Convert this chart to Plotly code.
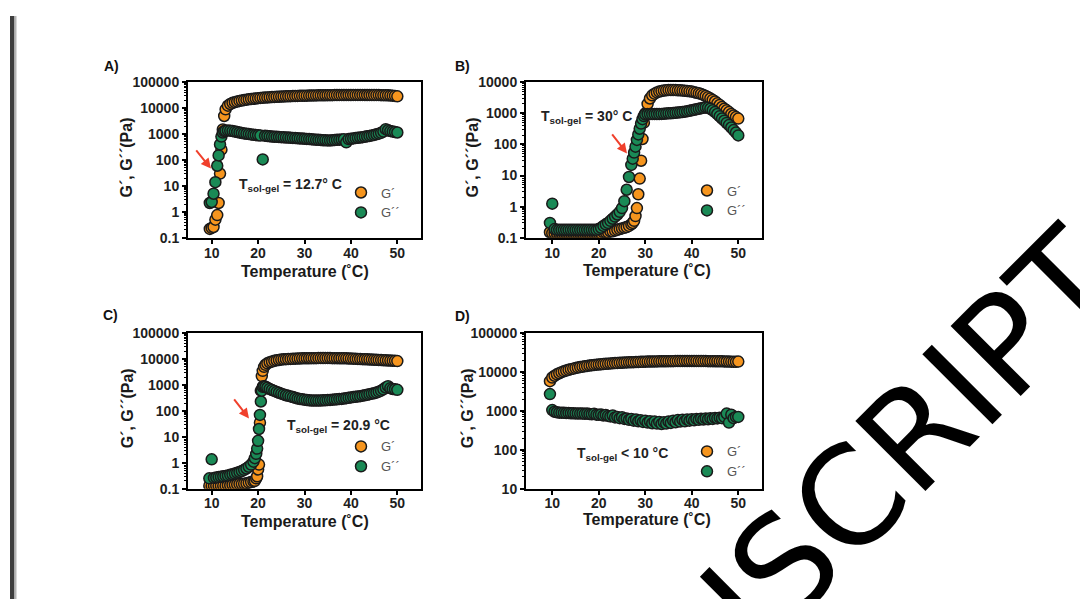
import plotly.graph_objects as go

# Measured page placement: screen_x = 8 + fig_x ; screen_y = 16 + 0.97 * fig_y
W, H = 1080, 601
OFFX, OFFY, SY = 8, 16, 0.97
FONT = "Liberation Sans, Arial, sans-serif"
ORANGE = "#F6951E"
GREEN = "#1A8A56"

# ---------------- data ----------------
TEMP_A = [9.6, 10.0, 10.4, 10.8, 11.2, 11.5, 11.8, 12.1, 12.4, 12.7,
          13.0, 13.5, 14.0, 14.5, 15.0, 15.5, 16.0, 16.5, 17.0, 17.5,
          18.0, 18.5, 19.0, 19.5, 20.0, 20.5, 21.0, 21.5, 22.0, 22.5,
          23.0, 23.5, 24.0, 24.5, 25.0, 25.5, 26.0, 26.5, 27.0, 27.5,
          28.0, 28.5, 29.0, 29.5, 30.0, 30.5, 31.0, 31.5, 32.0, 32.5,
          33.0, 33.5, 34.0, 34.5, 35.0, 35.5, 36.0, 36.5, 37.0, 37.5,
          38.0, 38.5, 39.0, 39.5, 40.0, 40.5, 41.0, 41.5, 42.0, 42.5,
          43.0, 43.5, 44.0, 44.5, 45.0, 45.5, 46.0, 46.5, 47.0, 47.5,
          48.0, 48.5, 49.0, 49.5, 50.0]
GP_A = [0.22, 0.24, 0.26, 0.5, 0.75, 2.2, 30, 250, 1500, 5000,
        9000, 12500, 14500, 16000, 17000, 18000, 19000, 19800, 20500, 21200,
        22000, 22600, 23200, 23800, 24300, 24800, 25200, 25600, 26000, 26400,
        26700, 27000, 27300, 27600, 27900, 28200, 28500, 28700, 29000, 29200,
        29400, 29600, 29800, 30000, 30200, 30400, 30600, 30800, 31000, 31100,
        31200, 31300, 31400, 31500, 31600, 31700, 31800, 31900, 32000, 32000,
        32100, 32100, 32200, 32200, 32200, 32300, 32300, 32300, 32300, 32300,
        32200, 32200, 32200, 32100, 32100, 32000, 32000, 31800, 31600, 31400,
        31200, 30800, 30300, 29600, 28500]
GPP_A = [2.2, 2.4, 5, 14, 60, 150, 400, 800, 1150, 1300,
         1350, 1380, 1350, 1300, 1250, 1200, 1150, 1100, 1060, 1030,
         1000, 970, 940, 920, 900, 880, 105, 860, 840, 820,
         800, 790, 780, 770, 760, 750, 740, 730, 720, 710,
         700, 690, 680, 670, 660, 650, 640, 630, 620, 610,
         600, 590, 580, 580, 570, 570, 580, 590, 600, 610,
         620, 630, 480, 640, 660, 680, 700, 720, 740, 760,
         790, 820, 850, 890, 930, 980, 1040, 1120, 1250, 1550,
         1400, 1300, 1250, 1200, 1150]

TEMP_B = [9.5, 10.0, 10.5, 11.0, 11.5, 12.0, 12.5, 13.0, 13.5, 14.0,
          14.5, 15.0, 15.5, 16.0, 16.5, 17.0, 17.5, 18.0, 18.5, 19.0,
          19.5, 20.0, 20.5, 21.0, 21.5, 22.0, 22.5, 23.0, 23.5, 24.0,
          24.5, 25.0, 25.5, 26.0, 26.5, 27.0,
          27.3, 27.6, 27.9, 28.2, 28.5, 28.8, 29.1, 29.4, 29.7,
          30.0, 30.5, 31.0, 31.5, 32.0, 32.5, 33.0, 33.5, 34.0, 34.5,
          35.0, 35.5, 36.0, 36.5, 37.0, 37.5, 38.0, 38.5, 39.0, 39.5,
          40.0, 40.5, 41.0, 41.5, 42.0, 42.5, 43.0, 43.5, 44.0, 44.5,
          45.0, 45.5, 46.0, 46.5, 47.0, 47.5, 48.0, 48.5, 49.0, 49.5,
          50.0]
GP_B = [0.15, 0.14, 0.14, 0.14, 0.14, 0.14, 0.14, 0.14, 0.14, 0.14,
        0.14, 0.14, 0.14, 0.14, 0.14, 0.14, 0.14, 0.14, 0.14, 0.14,
        0.14, 0.14, 0.14, 0.15, 0.15, 0.15, 0.16, 0.16, 0.17, 0.18,
        0.19, 0.2, 0.21, 0.22, 0.24, 0.27,
        0.3, 0.35, 0.5, 0.9, 2.5, 8, 30, 150, 500,
        1000, 2000, 3000, 3800, 4300, 4700, 5000, 5200, 5400, 5500,
        5600, 5600, 5600, 5600, 5500, 5500, 5400, 5300, 5200, 5100,
        5000, 4800, 4600, 4400, 4200, 3900, 3600, 3300, 3000, 2700,
        2400, 2100, 1850, 1600, 1400, 1250, 1100, 950, 850, 760,
        680]
GPP_B = [0.3, 1.25, 0.19, 0.18, 0.18, 0.18, 0.18, 0.18, 0.18, 0.18,
         0.18, 0.18, 0.18, 0.18, 0.18, 0.18, 0.18, 0.18, 0.18, 0.18,
         0.18, 0.19, 0.21, 0.24, 0.27, 0.3, 0.35, 0.41, 0.48, 0.56,
         0.68, 0.9, 1.5, 3.5, 9, 22,
         35, 55, 85, 140, 210, 320, 470, 650, 820,
         920, 950, 950, 950, 950, 950, 950, 960, 970, 980,
         1000, 1000, 1020, 1040, 1060, 1080, 1100, 1130, 1160, 1200,
         1250, 1300, 1350, 1400, 1450, 1500, 1550, 1500, 1400, 1250,
         1100, 950, 800, 680, 580, 490, 420, 350, 290, 240,
         195]

TEMP_C = [9.5, 10.0, 10.5, 11.0, 11.5, 12.0, 12.5, 13.0, 13.5, 14.0,
          14.5, 15.0, 15.5, 16.0, 16.5, 17.0, 17.5, 18.0, 18.5, 19.0,
          19.3, 19.6, 19.8, 20.0, 20.2, 20.4, 20.6, 20.8, 21.0, 21.3, 21.6, 22.0,
          22.5, 23.0, 23.5, 24.0, 24.5, 25.0, 25.5, 26.0, 26.5, 27.0,
          27.5, 28.0, 28.5, 29.0, 29.5, 30.0, 30.5, 31.0, 31.5, 32.0,
          32.5, 33.0, 33.5, 34.0, 34.5, 35.0, 35.5, 36.0, 36.5, 37.0,
          37.5, 38.0, 38.5, 39.0, 39.5, 40.0, 40.5, 41.0, 41.5, 42.0,
          42.5, 43.0, 43.5, 44.0, 44.5, 45.0, 45.5, 46.0, 46.5, 47.0,
          47.5, 48.0, 48.5, 49.0, 49.5, 50.0]
GP_C = [0.13, 0.13, 0.13, 0.13, 0.13, 0.13, 0.13, 0.13, 0.135, 0.135,
        0.14, 0.14, 0.145, 0.15, 0.15, 0.155, 0.16, 0.17, 0.18, 0.19,
        0.2, 0.25, 0.3, 0.55, 0.85, 35, 600, 2200, 3500, 5000, 6000, 6800,
        7500, 8000, 8500, 8900, 9200, 9500, 9700, 9900, 10000, 10100,
        10200, 10300, 10400, 10500, 10600, 10600, 10700, 10700, 10800, 10800,
        10800, 10900, 10900, 10900, 10900, 10900, 10900, 10800, 10800, 10800,
        10700, 10700, 10600, 10600, 10500, 10400, 10300, 10200, 10100, 10000,
        9900, 9800, 9700, 9600, 9500, 9400, 9300, 9200, 9100, 9000,
        8900, 8800, 8700, 8600, 8500, 8300]
GPP_C = [0.25, 1.35, 0.26, 0.27, 0.28, 0.29, 0.3, 0.31, 0.32, 0.34,
         0.36, 0.38, 0.41, 0.44, 0.48, 0.53, 0.6, 0.7, 0.85, 1.1,
         1.5, 2.2, 3.5, 7, 20, 70, 230, 600, 850, 900, 850, 780,
         700, 640, 590, 540, 500, 460, 430, 400, 380, 360,
         340, 320, 300, 290, 280, 270, 260, 255, 250, 250,
         250, 250, 250, 255, 255, 260, 265, 270, 275, 280,
         285, 290, 300, 310, 320, 330, 340, 350, 360, 370,
         385, 400, 420, 440, 460, 480, 510, 550, 600, 680,
         800, 900, 750, 700, 680, 650]

TEMP_D = [9.5, 10.0, 10.5, 11.0, 11.5, 12.0, 12.5, 13.0, 13.5, 14.0,
          14.5, 15.0, 15.5, 16.0, 16.5, 17.0, 17.5, 18.0, 18.5, 19.0,
          19.5, 20.0, 20.5, 21.0, 21.5, 22.0, 22.5, 23.0, 23.5, 24.0,
          24.5, 25.0, 25.5, 26.0, 26.5, 27.0, 27.5, 28.0, 28.5, 29.0,
          29.5, 30.0, 30.5, 31.0, 31.5, 32.0, 32.5, 33.0, 33.5, 34.0,
          34.5, 35.0, 35.5, 36.0, 36.5, 37.0, 37.5, 38.0, 38.5, 39.0,
          39.5, 40.0, 40.5, 41.0, 41.5, 42.0, 42.5, 43.0, 43.5, 44.0,
          44.5, 45.0, 45.5, 46.0, 46.5, 47.0, 47.5, 48.0, 48.5, 49.0,
          49.5, 50.0]
GP_D = [5800, 7200, 8000, 8700, 9300, 9900, 10400, 10900, 11400, 11800,
        12200, 12600, 13000, 13400, 13700, 14000, 14300, 14600, 14900, 15200,
        15400, 15600, 15800, 16000, 16200, 16400, 16600, 16700, 16900, 17000,
        17200, 17300, 17500, 17600, 17700, 17800, 17900, 18000, 18100, 18200,
        18300, 18400, 18500, 18500, 18600, 18700, 18700, 18800, 18800, 18900,
        18900, 19000, 19000, 19000, 19100, 19100, 19100, 19100, 19200, 19200,
        19200, 19200, 19200, 19200, 19100, 19100, 19100, 19100, 19000, 19000,
        19000, 18900, 18900, 18800, 18800, 18700, 18600, 18500, 18400, 18300,
        18200, 18500]
GPP_D = [2700, 1050, 950, 920, 900, 900, 890, 880, 880, 870,
         870, 860, 860, 850, 860, 840, 850, 830, 820, 840,
         800, 790, 810, 760, 780, 740, 720, 760, 680, 700,
         650, 690, 620, 640, 590, 620, 560, 600, 540, 570,
         520, 560, 500, 540, 480, 530, 470, 520, 460, 510,
         470, 530, 490, 560, 510, 580, 530, 590, 540, 600,
         560, 610, 570, 620, 590, 630, 600, 640, 610, 650,
         620, 660, 640, 670, 650, 700, 850, 500, 800, 650,
         700, 700]

X_TICKS = [10, 20, 30, 40, 50]
Y_TICKS_AC = [0.1, 1, 10, 100, 1000, 10000, 100000]
Y_LABELS_AC = ["0.1", "1", "10", "100", "1000", "10000", "100000"]
Y_TICKS_B = [0.1, 1, 10, 100, 1000, 10000]
Y_LABELS_B = ["0.1", "1", "10", "100", "1000", "10000"]
Y_TICKS_D = [10, 100, 1000, 10000, 100000]
Y_LABELS_D = ["10", "100", "1000", "10000", "100000"]

PANELS = ["A)", "B)", "C)", "D)"]
SOLGEL = ["T<sub>sol-gel</sub> = 12.7° C", "T<sub>sol-gel</sub> = 30° C",
          "T<sub>sol-gel</sub> = 20.9 °C", "T<sub>sol-gel</sub> &lt; 10 °C"]
NAME_GP = "G´"
NAME_GPP = "G´´"


# --------------- layout helpers (screen pixels -> paper) ---------------
def px_x(x):
    return (x - OFFX) / W


def px_y(y):
    return min(1.0, 1 - ((y - OFFY) / SY) / H)


fig = go.Figure()

series = [(TEMP_A, GP_A, GPP_A), (TEMP_B, GP_B, GPP_B),
          (TEMP_C, GP_C, GPP_C), (TEMP_D, GP_D, GPP_D)]
legends = ["legend", "legend2", "legend3", "legend4"]
for i, (t, gp, gpp) in enumerate(series):
    ax = "" if i == 0 else str(i + 1)
    for vals, name, col in ((gp, NAME_GP, ORANGE), (gpp, NAME_GPP, GREEN)):
        fig.add_trace(go.Scatter(
            x=t, y=vals, mode="markers", name=name,
            xaxis="x" + ax, yaxis="y" + ax, legend=legends[i],
            marker=dict(size=11, color=col, line=dict(color="#1a1a1a", width=1.5)),
        ))

# plot-area boxes in screen pixels: (left, right, top, bottom)
boxes = [(188, 421, 82, 237), (526, 762, 82, 237),
         (188, 421, 332, 487), (526, 762, 332, 487)]
xranges = [[4.9, 55.1], [4.35, 55.1], [4.9, 55.1], [4.35, 55.1]]
yranges = [[-1, 5], [-1, 4], [-1, 5], [1, 5]]
yticks = [(Y_TICKS_AC, Y_LABELS_AC), (Y_TICKS_B, Y_LABELS_B),
          (Y_TICKS_AC, Y_LABELS_AC), (Y_TICKS_D, Y_LABELS_D)]

tickfont = dict(family=FONT, size=14, color="#1e1e1e", weight="bold")
layout = dict(
    width=W, height=H, margin=dict(l=0, r=0, t=0, b=0),
    paper_bgcolor="white", plot_bgcolor="white",
    font=dict(family=FONT),
)
for i, (l, r, t, b) in enumerate(boxes):
    ax = "" if i == 0 else str(i + 1)
    yv, yl = yticks[i]
    layout["xaxis" + ax] = dict(
        domain=[px_x(l), px_x(r)], range=xranges[i], anchor="y" + ax,
        tickmode="array", tickvals=X_TICKS, ticks="outside", ticklen=4,
        tickwidth=1.5, tickcolor="black", showline=True, linecolor="black",
        linewidth=2, mirror=True, showgrid=False, zeroline=False,
        tickfont=tickfont, ticklabelstandoff=-3,
    )
    layout["yaxis" + ax] = dict(
        domain=[px_y(b), px_y(t)], range=yranges[i], type="log", anchor="x" + ax,
        tickmode="array", tickvals=yv, ticktext=yl, ticks="outside", ticklen=4,
        tickwidth=1.5, tickcolor="black", showline=True, linecolor="black",
        linewidth=2, mirror=True, showgrid=False, zeroline=False,
        tickfont=tickfont,
        minor=dict(ticks="outside", ticklen=2, tickwidth=1, tickcolor="black",
                   dtick="D1", showgrid=False),
    )

# legends: centre of the two legend markers (screen px)
leg_pos = [(363, 204), (709, 202), (363, 457), (709, 462)]
for i, (cx, cy) in enumerate(leg_pos):
    layout[legends[i]] = dict(
        x=px_x(cx - 22), y=px_y(cy - 27), xanchor="left", yanchor="top",
        bgcolor="rgba(0,0,0,0)", borderwidth=0,
        font=dict(family=FONT, size=13, color="#555555"),
        itemsizing="trace",
    )

fig.update_layout(**layout)

ann = []
# panel letters
for txt, (x, y) in zip(PANELS, [(111, 66), (462, 66), (110, 314), (462, 315)]):
    ann.append(dict(text=txt, x=px_x(x), y=px_y(y), xref="paper", yref="paper",
                    showarrow=False, xanchor="center", yanchor="middle",
                    font=dict(family=FONT, size=14, color="#111", weight="bold")))
# axis titles
for (x, y) in [(305, 271), (647, 270), (305, 520), (647, 518)]:
    ann.append(dict(text="Temperature (˚C)", x=px_x(x), y=px_y(y), xref="paper",
                    yref="paper", showarrow=False, xanchor="center", yanchor="middle",
                    font=dict(family=FONT, size=16, color="#1a1a1a", weight="bold")))
for (x, y) in [(126, 157), (472, 157), (127, 407), (467, 407)]:
    ann.append(dict(text="G´, G´´(Pa)", x=px_x(x), y=px_y(y), xref="paper",
                    yref="paper", showarrow=False, xanchor="center", yanchor="middle",
                    textangle=-90,
                    font=dict(family=FONT, size=16, color="#1a1a1a", weight="bold")))
# T sol-gel notes
for txt, (x, y) in zip(SOLGEL, [(237, 184), (539, 117), (285, 425), (575, 452)]):
    ann.append(dict(text=txt, x=px_x(x), y=px_y(y), xref="paper", yref="paper",
                    showarrow=False, xanchor="left", yanchor="middle",
                    font=dict(family=FONT, size=14, color="#222", weight="bold")))
# red arrows
for (hx, hy, tx, ty) in [(211, 168, 195, 149), (627, 153, 611, 133), (249, 417, 233, 397)]:
    ann.append(dict(text="", x=px_x(hx), y=px_y(hy), xref="paper", yref="paper",
                    ax=tx - hx, ay=(ty - hy) / SY, axref="pixel", ayref="pixel",
                    showarrow=True, arrowhead=2, arrowsize=1, arrowwidth=2,
                    arrowcolor="#F0402C"))
# watermark
ann.append(dict(text="USCRIPT", x=px_x(889), y=px_y(459), xref="paper", yref="paper",
                showarrow=False, xanchor="center", yanchor="middle", textangle=-45,
                font=dict(family="DejaVu Sans", size=136, color="black")))
fig.update_layout(annotations=ann)

# gray bar on the left
for x0, x1, col in ((10, 14.5, "#3e3e3e"), (14.5, 16.5, "#b5b5b5")):
    fig.add_shape(type="rect", xref="paper", yref="paper", x0=px_x(x0), x1=px_x(x1),
                  y0=0, y1=px_y(11), fillcolor=col, line=dict(width=0))

fig.write_html("out.html")
